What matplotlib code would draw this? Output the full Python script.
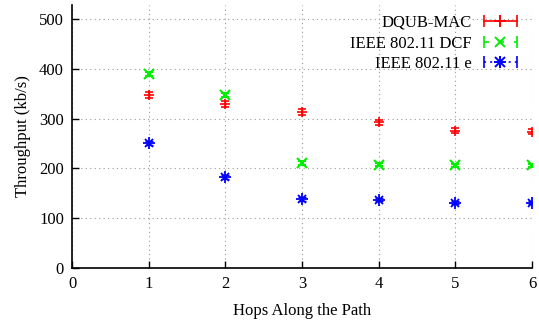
import matplotlib.pyplot as plt
from matplotlib.lines import Line2D
from matplotlib.legend_handler import HandlerLine2D, HandlerTuple

hops = [1, 2, 3, 4, 5, 6]

dqub_mac = [347, 330, 313, 292, 275, 273]
dqub_err = [6, 6, 6, 6, 5, 5]

ieee_dcf = [390, 347, 211, 207, 206, 206]
dcf_err = [4, 4, 4, 3, 3, 3]

ieee_e = [251, 183, 139, 137, 131, 131]
e_err = [4, 4, 4, 3, 3, 3]

labels = ['DQUB-MAC', 'IEEE 802.11 DCF', 'IEEE 802.11 e']
colors = ['#ff0000', '#00ee00', '#0000ff']

plt.rcParams['font.family'] = ['Liberation Serif', 'DejaVu Serif']

fig = plt.figure(figsize=(5.39, 3.28), dpi=100)
ax = fig.add_axes([0.134, 0.183, 0.853, 0.802])

ax.errorbar(hops, dqub_mac, yerr=dqub_err, fmt='+', color=colors[0],
            markersize=7, mew=1.2, capsize=3, elinewidth=1.0)
ax.errorbar(hops, ieee_dcf, yerr=dcf_err, fmt='x', color=colors[1],
            markersize=7, mew=1.5, capsize=3, elinewidth=1.0)
ax.errorbar(hops, ieee_e, yerr=e_err, fmt='none', ecolor=colors[2],
            capsize=3, elinewidth=1.0)
# gnuplot style asterisk (pt 3): + and x on top of each other
ax.plot(hops, ieee_e, ls='none', marker='+', color=colors[2], markersize=8, mew=1.3)
ax.plot(hops, ieee_e, ls='none', marker='x', color=colors[2], markersize=6, mew=1.3)

ax.set_xlim(0, 6)
ax.set_ylim(0, 528)
ax.set_xticks(range(0, 7))
ax.set_yticks(range(0, 501, 100))
ax.tick_params(direction='in', length=5, width=1, labelsize=12, pad=6)
ax.spines['top'].set_visible(False)
ax.spines['right'].set_visible(False)
ax.spines['left'].set_linewidth(1.2)
ax.spines['bottom'].set_linewidth(1.2)
ax.grid(True, ls=(0, (1, 3)), color='#999999', lw=0.8)

ax.set_xlabel('Hops Along the Path', fontsize=12, labelpad=8)
ax.set_ylabel('Throughput (kb/s)', fontsize=12, labelpad=6)

# legend samples like gnuplot: line with end caps and point in the middle
styles = ['-', (0, (3, 6)), (0, (1.2, 2.5))]
mids = [['+'], ['x'], ['+', 'x']]
handles = []
hmap = {}
for c, s, ms in zip(colors, styles, mids):
    ln = Line2D([], [], color=c, ls=s, lw=1.2, marker='|', markersize=8, mew=1.2)
    hmap[ln] = HandlerLine2D(numpoints=2)
    parts = [ln]
    for m in ms:
        pt = Line2D([], [], color=c, ls='none', marker=m,
                    markersize=8 if m == '+' else 7, mew=1.4)
        hmap[pt] = HandlerLine2D(numpoints=1)
        parts.append(pt)
    handles.append(tuple(parts))
hmap[tuple] = HandlerTuple(ndivide=1)

leg = ax.legend(handles, labels, handler_map=hmap, loc='upper right', frameon=False,
                markerfirst=False, fontsize=12, handlelength=2.6, handletextpad=0.4,
                labelspacing=0.28, borderaxespad=0.2, bbox_to_anchor=(1.0, 1.0))

fig.savefig('out.png', dpi=100)
